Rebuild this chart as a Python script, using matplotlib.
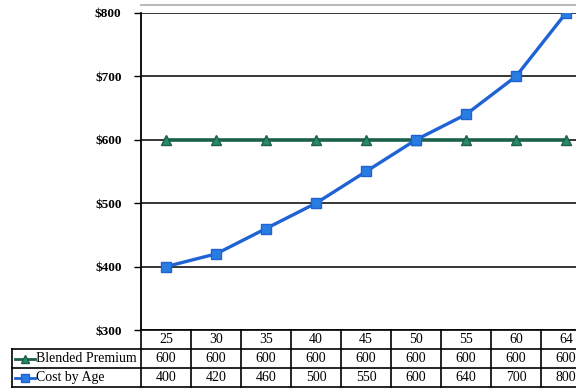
import matplotlib.pyplot as plt

ages = ["25", "30", "35", "40", "45", "50", "55", "60", "64"]
blended = [600, 600, 600, 600, 600, 600, 600, 600, 600]
cost = [400, 420, 460, 500, 550, 600, 640, 700, 800]
yticks = [300, 400, 500, 600, 700, 800]
series_names = ["Blended Premium", "Cost by Age"]

green = "#1a604a"
green_fc = "#2a8a66"
blue = "#1f62d6"
blue_fc = "#2a7de0"
W, H = 576, 389

plt.rcParams["font.family"] = ["Liberation Serif", "DejaVu Serif"]

fig = plt.figure(figsize=(W / 100, H / 100), dpi=100)
# plot area runs off the right edge, like the cropped page
x0, x1, ytop, ybot = 141, 591, 13, 330
ax = fig.add_axes([x0 / W, 1 - ybot / H, (x1 - x0) / W, (ybot - ytop) / H])

x = list(range(len(ages)))
ax.plot(x, blended, color=green, lw=2.6, marker="^", ms=7, mfc=green_fc, mec=green, zorder=3)
ax.plot(x, cost, color=blue, lw=2.4, marker="s", ms=7, mfc=blue_fc, mec=blue, zorder=4)

ax.set_xlim(-0.5, len(ages) - 0.5)
ax.set_ylim(300, 800)
ax.set_yticks(yticks)
ax.set_yticklabels(["${}".format(v) for v in yticks], fontsize=9.5, fontweight="bold")
ax.set_xticks([])
ax.yaxis.grid(True, color="black", lw=1.1)
ax.tick_params(axis="y", length=5, width=1, pad=9)
for side in ["top", "right", "bottom"]:
    ax.spines[side].set_visible(False)
ax.spines["left"].set_linewidth(1.3)

# overlay in pixel units for the frame line and the data table
tax = fig.add_axes([0, 0, 1, 1], facecolor="none")
tax.set_xlim(0, W)
tax.set_ylim(H, 0)
tax.axis("off")

tax.plot([x0, W], [5, 5], color="#bbbbbb", lw=1.5)

col_w = (x1 - x0) / len(ages)
row_h = 19
label_l = 12
rows = [blended, cost]
t0 = ybot
lw_t = 1.2
for j in range(len(ages) + 1):
    tax.plot([x0 + j * col_w] * 2, [t0, t0 + 3 * row_h], color="black", lw=lw_t)
tax.plot([label_l] * 2, [t0 + row_h, t0 + 3 * row_h], color="black", lw=lw_t)
tax.plot([x0, x1], [t0, t0], color="black", lw=lw_t)
for r in range(1, 4):
    tax.plot([label_l, x1], [t0 + r * row_h] * 2, color="black", lw=lw_t)

# header row with the ages
for j, a in enumerate(ages):
    tax.text(x0 + (j + 0.5) * col_w, t0 + row_h / 2, a, ha="center", va="center", fontsize=10)

keys = [("^", green, green_fc), ("s", blue, blue_fc)]
for i, vals in enumerate(rows):
    yc = t0 + (i + 1.5) * row_h
    mk, col, fc = keys[i]
    tax.plot([label_l + 3, label_l + 23], [yc, yc], color=col, lw=2)
    tax.plot([label_l + 13], [yc], marker=mk, ms=5.5, color=col, mfc=fc, mec=col)
    tax.text(label_l + 24, yc, series_names[i], ha="left", va="center", fontsize=10)
    for j, v in enumerate(vals):
        tax.text(x0 + (j + 0.5) * col_w, yc, str(v), ha="center", va="center", fontsize=10)

plt.savefig("out.png", dpi=100)
